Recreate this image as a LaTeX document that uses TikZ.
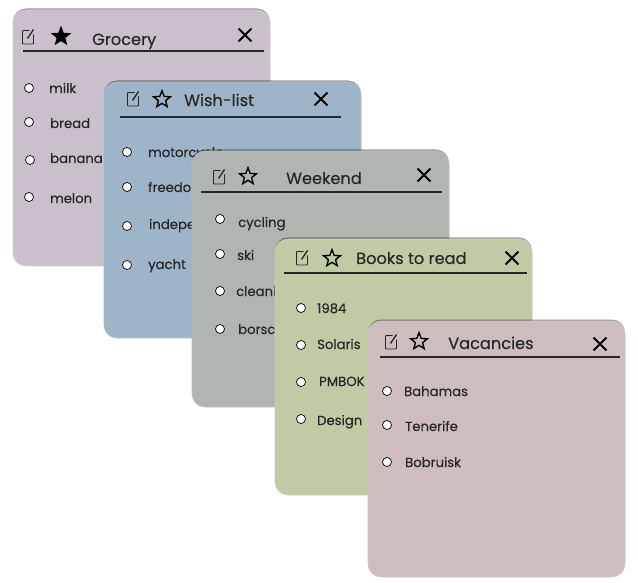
\documentclass[tikz,border=0pt]{standalone}
\usepackage{fontspec}
\setmainfont[FakeBold=0.25]{Poppins}
\usetikzlibrary{shapes.geometric,shapes.misc,shadows}
\definecolor{inkcol}{HTML}{262626}
\definecolor{grocerycol}{HTML}{C9C0CC}
\definecolor{wishcol}{HTML}{9DB4C9}
\definecolor{weekendcol}{HTML}{B0B5B2}
\definecolor{bookscol}{HTML}{BFCBA5}
\definecolor{vacancycol}{HTML}{CDBDBE}
\tikzset{
card/.style={rectangle, rounded corners=13pt, minimum width=257pt, minimum height=256pt, inner sep=0pt, draw=#1!85!white, line width=.6pt, fill=#1, drop shadow={shadow xshift=0pt, shadow yshift=1.5pt, fill=black, opacity=.4}},
title/.style={anchor=west, inner sep=0pt, text=inkcol, font=\fontsize{16.2}{18}\selectfont, text height=15pt, text depth=3pt},
item/.style={anchor=west, inner sep=0pt, text=inkcol, font=\fontsize{13.2}{15}\selectfont, text height=13pt, text depth=3pt},
dot/.style={circle, draw=black, fill=white, line width=.7pt, minimum size=9pt, inner sep=0pt},
staricon/.style={star, star points=5, star point ratio=2.3, minimum size=17.5pt, inner sep=0pt, draw=black, line width=1.4pt},
closeicon/.style={cross out, draw=black, line width=1.9pt, minimum size=11pt, inner sep=0pt},
headline/.style={draw=inkcol, line width=1.1pt},
editicon/.pic={
\draw[line width=.9pt, rounded corners=.8pt, inkcol] (1.5,-6.5) -- (-5.5,-6.5) -- (-5.5,7) -- (5.5,7) -- (5.5,-2.5);
\draw[line width=1.3pt, inkcol] (-.5,1.5) -- (5.5,-7.5);
}}
\begin{document}
\begin{tikzpicture}[x=1pt, y=-1pt]
\useasboundingbox (0,0) rectangle (638,583);
% grocery
\node[card=grocerycol] (cardg) at (141.5,138){};
\pic at (28,37) {editicon};
\node[staricon, fill=black] (starg) at (61,36.5){};
\node[title] (titleg) at (92,39){Grocery};
\node[closeicon] (closeg) at (245,35){};
\coordinate (lineg0) at (23,51);
\coordinate (lineg1) at (264,51);
\draw[headline] (lineg0) -- (lineg1);
\node[dot] (dotg0) at (29,88){};
\node[item] (itemg0) at (49,88){milk};
\node[dot] (dotg1) at (29,122){};
\node[item] (itemg1) at (50,123){bread};
\node[dot] (dotg2) at (30,160){};
\node[item] (itemg2) at (50,158){banana};
\node[dot] (dotg3) at (29,197){};
\node[item] (itemg3) at (50,198){melon};

% wish-list
\node[card=wishcol] (cardw) at (232.5,210){};
\pic at (133,99) {editicon};
\node[staricon] (starw) at (162,99.5){};
\node[title] (titlew) at (184,100){Wish-list};
\node[closeicon] (closew) at (321,99){};
\coordinate (linew0) at (120,117);
\coordinate (linew1) at (341,117);
\draw[headline] (linew0) -- (linew1);
\node[dot] (dotw0) at (127,152){};
\node[item] (itemw0) at (148,152){motorcycle};
\node[dot] (dotw1) at (127,187){};
\node[item] (itemw1) at (148,187){freedom};
\node[dot] (dotw2) at (127,226){};
\node[item] (itemw2) at (149,224){independence};
\node[dot] (dotw3) at (127,265){};
\node[item] (itemw3) at (148,264){yacht};

% weekend
\node[card=weekendcol] (cardk) at (320.5,279){};
\pic at (219,177) {editicon};
\node[staricon] (stark) at (248,176.5){};
\node[title] (titlek) at (286,178){Weekend};
\node[closeicon] (closek) at (424,175){};
\coordinate (linek0) at (201,192);
\coordinate (linek1) at (442,192);
\draw[headline] (linek0) -- (linek1);
\node[dot] (dotk0) at (220,219){};
\node[item] (itemk0) at (238,222){cycling};
\node[dot] (dotk1) at (220,254){};
\node[item] (itemk1) at (237,255){ski};
\node[dot] (dotk2) at (220,291){};
\node[item] (itemk2) at (236,291){cleaning};
\node[dot] (dotk3) at (220,329){};
\node[item] (itemk3) at (238,329){borsch};

% books
\node[card=bookscol] (cardb) at (403.5,367){};
\pic at (302,258) {editicon};
\node[staricon] (starb) at (332,258.5){};
\node[title] (titleb) at (356,258){Books to read};
\node[closeicon] (closeb) at (512,258){};
\coordinate (lineb0) at (284,273);
\coordinate (lineb1) at (527,273);
\draw[headline] (lineb0) -- (lineb1);
\node[dot] (dotb0) at (301,308){};
\node[item] (itemb0) at (317,308){1984};
\node[dot] (dotb1) at (301,345){};
\node[item] (itemb1) at (317,344){Solaris};
\node[dot] (dotb2) at (301,382){};
\node[item] (itemb2) at (319,381){PMBOK};
\node[dot] (dotb3) at (301,419){};
\node[item] (itemb3) at (317,420){Design};

% vacancies
\node[card=vacancycol] (cardv) at (496.5,449){};
\pic at (391,342) {editicon};
\node[staricon] (starv) at (419,341.5){};
\node[title] (titlev) at (448,343){Vacancies};
\node[closeicon] (closev) at (600,344){};
\coordinate (linev0) at (380,357);
\coordinate (linev1) at (620,357);
\draw[headline] (linev0) -- (linev1);
\node[dot] (dotv0) at (387,391){};
\node[item] (itemv0) at (404,391){Bahamas};
\node[dot] (dotv1) at (387,425){};
\node[item] (itemv1) at (405,426){Tenerife};
\node[dot] (dotv2) at (387,462){};
\node[item] (itemv2) at (405,462){Bobruisk};
\end{tikzpicture}
\end{document}
